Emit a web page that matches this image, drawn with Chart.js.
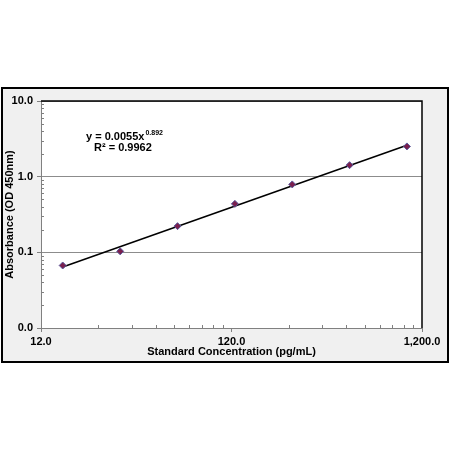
<!DOCTYPE html>
<html>
<head>
<meta charset="utf-8">
<script src="https://cdn.jsdelivr.net/npm/chart.js@4/dist/chart.umd.min.js"></script>
<style>
  html,body{margin:0;padding:0;background:#fff;width:450px;height:450px;overflow:hidden;}
  #frame{position:absolute;left:1px;top:87px;width:444px;height:272px;border:2px solid #000;background:#f0f0f0;}
  #frame canvas{display:block;}
</style>
</head>
<body>
<div id="frame"><canvas id="c" width="444" height="272"></canvas></div>
<script>
// standards (pg/mL) and measured OD
const concentrations = [15.6, 31.25, 62.5, 125, 250, 500, 1000];
const absorbance = [0.067, 0.103, 0.222, 0.437, 0.79, 1.42, 2.51];
// fitted power trendline, read at its two ends
const trendX = [15.6, 1000];
const trendY = [0.064, 2.6];

const xTicks = [12, 120, 1200];
const xTickLabels = ['12.0', '120.0', '1,200.0'];
const yTicks = [0.01, 0.1, 1, 10];
const yTickLabels = ['0.0', '0.1', '1.0', '10.0'];

const FONT = 'Liberation Sans, Arial, sans-serif';
const $ = id => document.getElementById(id);

const plotDecor = {
  id: 'plotDecor',
  beforeDraw(chart){
    const {ctx, chartArea:a} = chart;
    ctx.save();
    ctx.fillStyle = '#fff';
    ctx.fillRect(a.left, a.top, a.right - a.left, a.bottom - a.top);
    ctx.restore();
  },
  afterDraw(chart){
    const {ctx, chartArea:a, scales} = chart;
    ctx.save();
    // minor log ticks
    ctx.strokeStyle = '#808080';
    ctx.lineWidth = 1;
    ctx.beginPath();
    for(const base of xTicks.slice(0, -1)){
      for(let k = 2; k <= 9; k++){
        const px = Math.round(scales.x.getPixelForValue(base * k)) + 0.5;
        ctx.moveTo(px, a.bottom); ctx.lineTo(px, a.bottom - 3);
      }
    }
    for(const base of yTicks.slice(0, -1)){
      for(let k = 2; k <= 9; k++){
        const py = Math.round(scales.y.getPixelForValue(base * k)) + 0.5;
        ctx.moveTo(a.left, py); ctx.lineTo(a.left + 3, py);
      }
    }
    ctx.stroke();
    // top / right border
    ctx.strokeStyle = '#000';
    ctx.lineWidth = 1.5;
    ctx.beginPath();
    ctx.moveTo(a.left, a.top); ctx.lineTo(a.right, a.top); ctx.lineTo(a.right, a.bottom);
    ctx.stroke();
    // trendline equation
    ctx.fillStyle = '#000';
    ctx.textBaseline = 'middle';
    ctx.font = 'bold 11px ' + FONT;
    const main = 'y = 0.0055x';
    ctx.font = 'bold 11px ' + FONT;
    ctx.fillText(main, 83, 48);
    const w = ctx.measureText(main).width;
    ctx.font = 'bold 7px ' + FONT;
    ctx.fillText('0.892', 83 + w + 1, 44);
    ctx.font = 'bold 11px ' + FONT;
    ctx.fillText('R\u00B2 = 0.9962', 91, 59);
    ctx.restore();
  }
};

new Chart($('c'), {
  type: 'scatter',
  data: {
    datasets: [
      {
        label: 'Standard',
        data: concentrations.map((x, i) => ({x, y: absorbance[i]})),
        pointStyle: 'rectRot', pointRadius: 3.5,
        backgroundColor: '#7a1f4e', borderColor: '#5b5b9c', borderWidth: 1
      },
      {
        label: 'Trend',
        data: trendX.map((x, i) => ({x, y: trendY[i]})),
        showLine: true, pointRadius: 0, borderColor: '#000', borderWidth: 1.5
      }
    ]
  },
  options: {
    responsive: false, animation: false,
    layout: {padding: {top: 12, right: 25, left: 0, bottom: 0}},
    plugins: {legend: {display: false}, tooltip: {enabled: false}},
    scales: {
      x: {
        type: 'logarithmic', min: 12, max: 1200,
        afterBuildTicks: s => { s.ticks = xTicks.map(v => ({value: v})); },
        afterFit: s => { s.height = 33; },
        ticks: {
          autoSkip: false, maxRotation: 0, padding: 3, color: '#000',
          font: {family: FONT, size: 11, weight: 'bold'},
          callback: (v, i) => xTickLabels[i]
        },
        grid: {drawOnChartArea: false, tickLength: 4, tickColor: '#808080'},
        border: {color: '#808080', width: 1},
        title: {
          display: true, text: 'Standard Concentration (pg/mL)', color: '#000',
          font: {family: FONT, size: 11, weight: 'bold'}, padding: {top: 0, bottom: 2}
        }
      },
      y: {
        type: 'logarithmic', min: 0.01, max: 10,
        afterBuildTicks: s => { s.ticks = yTicks.map(v => ({value: v})); },
        afterFit: s => { s.width = 38; },
        ticks: {
          autoSkip: false, padding: 4, color: '#000',
          font: {family: FONT, size: 11, weight: 'bold'},
          callback: (v, i) => yTickLabels[i]
        },
        grid: {color: '#8c8c8c', tickLength: 4, tickColor: '#808080'},
        border: {color: '#808080', width: 1},
        title: {
          display: true, text: 'Absorbance (OD 450nm)', color: '#000',
          font: {family: FONT, size: 11, weight: 'bold'}, padding: {top: 0, bottom: 0}
        }
      }
    }
  },
  plugins: [plotDecor]
});
</script>
</body>
</html>
